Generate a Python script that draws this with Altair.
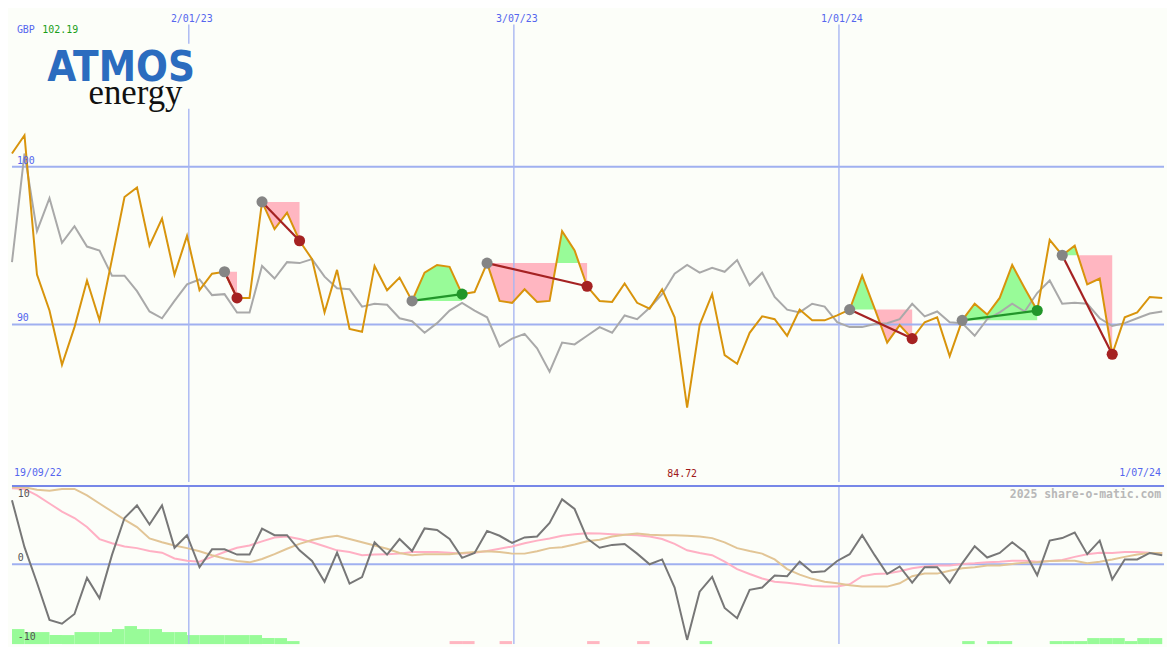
import altair as alt
import pandas as pd

# ---------------- data ----------------
ORIGIN = "2022-09-25"          # date of the first weekly point
END_DATE = "2024-07-01"
grid_dates = ["2023-01-02", "2023-07-03", "2024-01-01"]
grid_labels = ["2/01/23", "3/07/23", "1/01/24"]
start_label = "19/09/22"
end_label = "1/07/24"
currency = "GBP"
header_price = "102.19"
min_label = "84.72"
credit = "2025 share-o-matic.com"
top_levels = [100, 90]

price = [100.84, 102.0, 93.16, 90.88, 87.44, 89.83, 92.79, 90.26, 94.14, 98.08,
         98.69, 95.0, 96.72, 93.16, 95.62, 92.17, 93.22, 93.34, 91.68, 91.68,
         97.77, 96.05, 97.09, 95.31, 94.14, 90.76, 93.46, 89.71, 89.53, 93.71,
         92.17, 92.97, 91.49, 93.28, 93.77, 93.65, 91.92, 92.05, 93.89, 91.49,
         91.37, 92.23, 91.43, 91.49, 95.92, 94.69, 92.42, 91.49, 91.43, 92.60,
         91.37, 91.00, 92.23, 90.45, 84.72, 89.96, 91.92, 88.05, 87.50, 89.47,
         90.51, 90.33, 89.28, 90.94, 90.26, 90.26, 90.57, 90.94, 93.09, 91.00,
         88.85, 89.96, 89.10, 90.14, 90.45, 87.99, 90.26, 91.31, 90.63, 91.68,
         93.77, 92.29, 90.88, 95.37, 94.39, 95.00, 92.54, 92.91, 88.11, 90.45,
         90.76, 91.74, 91.68]

average = [93.95, 100.84, 95.92, 98.01, 95.18, 96.23, 94.94, 94.69, 93.09, 93.09,
           92.11, 90.82, 90.39, 91.49, 92.54, 92.85, 91.86, 91.92, 90.76, 90.76,
           93.71, 92.91, 93.95, 93.89, 94.14, 93.03, 92.29, 92.23, 91.13, 91.31,
           91.25, 90.39, 90.20, 89.47, 90.08, 90.88, 91.37, 90.88, 90.45, 88.60,
           89.10, 89.40, 88.48, 87.00, 88.85, 88.73, 89.28, 89.83, 89.47, 90.57,
           90.33, 91.06, 91.92, 93.22, 93.77, 93.28, 93.59, 93.34, 94.08, 92.48,
           93.28, 91.74, 90.94, 90.76, 91.31, 91.13, 90.14, 89.83, 89.83, 90.02,
           90.08, 90.33, 91.31, 90.51, 90.82, 90.14, 90.08, 89.28, 90.33, 90.76,
           91.31, 90.82, 91.99, 92.79, 91.31, 91.37, 91.31, 90.39, 89.90, 90.08,
           90.39, 90.69, 90.82]

oscillator = [9.90, 2.65, -2.85, -8.59, -9.19, -7.69, -2.10, -5.25, 1.45, 7.15,
              9.10, 6.15, 9.10, 2.55, 4.50, -0.45, 2.31, 2.31, 1.50, 1.50,
              5.50, 4.50, 4.50, 2.16, 0.51, -2.70, 1.80, -3.00, -1.99, 3.40,
              1.50, 3.90, 2.05, 5.55, 5.31, 3.90, 1.00, 1.75, 5.16, 4.41,
              3.30, 4.15, 4.30, 6.40, 10.04, 8.55, 4.00, 2.55, 3.00, 3.15,
              1.65, 0.00, 0.75, -3.60, -11.69, -4.24, -1.95, -6.75, -8.34, -3.94,
              -3.60, -1.74, -1.84, 0.40, -1.24, -1.09, 0.51, 1.56, 4.50, 1.41,
              -1.50, -0.34, -2.85, -0.45, -0.45, -2.85, 0.15, 2.80, 1.05, 1.75,
              3.40, 1.90, -1.69, 3.66, 4.05, 4.90, 1.56, 3.66, -2.34, 0.75,
              0.75, 1.75, 1.41]

signal_pink = [11.75, 11.65, 10.64, 9.40, 8.16, 7.15, 5.76, 3.90, 3.25, 2.76,
               2.50, 2.05, 1.80, 0.90, 0.55, 0.40, 1.15, 1.90, 2.55, 2.91,
               3.55, 4.15, 4.30, 3.90, 3.40, 2.80, 2.16, 1.90, 1.41, 1.50,
               1.56, 1.65, 1.90, 1.90, 1.90, 1.80, 1.65, 1.80, 2.05, 2.40,
               2.76, 3.25, 3.66, 4.00, 4.41, 4.65, 4.80, 4.75, 4.65, 4.56,
               4.50, 4.30, 3.90, 3.15, 2.16, 1.75, 1.41, 0.40, -0.75, -1.50,
               -2.19, -2.70, -2.85, -3.09, -3.34, -3.45, -3.45, -3.09, -1.84, -1.50,
               -1.44, -1.09, -0.60, -0.34, -0.19, -0.19, 0.06, 0.15, 0.30, 0.40,
               0.55, 0.55, 0.40, 0.51, 0.66, 1.15, 1.56, 1.80, 1.75, 1.90,
               1.90, 1.80, 1.75]

signal_tan = [11.90, 11.90, 11.54, 11.39, 11.65, 11.65, 10.64, 9.40, 8.16, 6.90,
              5.76, 4.00, 3.40, 2.91, 2.50, 2.01, 1.41, 0.90, 0.51, 0.30,
              0.81, 1.56, 2.40, 3.15, 3.75, 4.15, 4.41, 3.90, 3.40, 2.91,
              2.40, 1.75, 1.41, 1.56, 1.56, 1.56, 1.75, 1.90, 2.01, 1.90,
              1.65, 1.65, 2.01, 2.50, 2.65, 3.06, 3.55, 3.81, 4.30, 4.56,
              4.75, 4.56, 4.50, 4.50, 4.41, 4.30, 4.05, 3.40, 2.50, 2.05,
              1.65, 0.75, -0.75, -1.59, -2.25, -2.70, -2.94, -3.24, -3.45, -3.45,
              -3.45, -2.94, -1.84, -1.44, -1.44, -0.99, -0.60, -0.45, -0.19, -0.19,
              0.06, 0.25, 0.30, 0.51, 0.55, 0.55, 0.15, 0.40, 0.75, 1.15,
              1.50, 1.75, 1.75]

bar_level = [5, 4, 4, 3, 3, 4, 4, 4, 5, 6,
             5, 5, 4, 4, 3, 3, 3, 3, 3, 3,
             2, 2, 1, 0, 0, 0, 0, 0, 0, 0,
             0, 0, 0, 0, 0, -1, -1, 0, 0, -1,
             0, 0, 0, 0, 0, 0, -1, 0, 0, 0,
             -1, 0, 0, 0, 0, 1, 0, 0, 0, 0,
             0, 0, 0, 0, 0, 0, 0, 0, 0, 0,
             0, 0, 0, 0, 0, 0, 1, 0, 1, 1,
             0, 0, 0, 1, 1, 1, 2, 2, 2, 1,
             2, 2, 0]

# trades: (entry week, exit week)
trades = [(17, 18), (20, 23), (32, 36), (38, 46), (67, 72), (76, 82), (84, 88)]

# ---------------- layout / style ----------------
W, HT, HB = 1159, 475, 159
SX, SY = W / 1175.0, (HT + HB) / 650.0
BG = "#fcfef9"
BLUE_TXT = "#5566ee"
GRID = "#a0b0f0"
SEP = "#7787e8"
MONO = "DejaVu Sans Mono"
GREEN_FILL = "#98fb98"
PINK_FILL = "#ffb6c1"


def week_pos(d):
    return (pd.Timestamp(d) - pd.Timestamp(ORIGIN)).days / 7.0


XMAX = week_pos(END_DATE)
xs = alt.Scale(domain=[0, XMAX], nice=False, zero=False)
yt = alt.Scale(domain=[80, 109.95], nice=False, zero=False)
yb = alt.Scale(domain=[-12.34, 12.10], nice=False, zero=False)
ybar = alt.Scale(domain=[0, 52.6], nice=False, zero=False)

n = len(price)
df = pd.DataFrame({"x": list(range(n)), "price": price, "avg": average,
                   "osc": oscillator, "pink": signal_pink, "tan": signal_tan})

# trade fills / lines / dots
fill_rows, line_rows, dot_rows = [], [], []
for k, (a, b) in enumerate(trades):
    e = price[a]
    pts = []
    for j in range(a, b):
        pts.append((j, price[j]))
        p0, p1 = price[j], price[j + 1]
        if (p0 - e) * (p1 - e) < 0:
            pts.append((j + (e - p0) / (p1 - p0), e))
    pts.append((b, price[b]))
    for xx, yy in pts:
        fill_rows.append({"trade": k, "x": xx, "up": max(yy, e), "dn": min(yy, e), "entry": e})
    outcome = "gain" if price[b] > e else "loss"
    line_rows += [{"trade": k, "x": a, "y": e, "kind": outcome},
                  {"trade": k, "x": b, "y": price[b], "kind": outcome}]
    dot_rows += [{"trade": k, "x": a, "y": e, "kind": "entry"},
                 {"trade": k, "x": b, "y": price[b], "kind": outcome}]
fills = pd.DataFrame(fill_rows)
tlines = pd.DataFrame(line_rows)
tdots = pd.DataFrame(dot_rows)
kind_scale = alt.Scale(domain=["entry", "gain", "loss"], range=["#858585", "#22962a", "#a52222"])

X = alt.X("x:Q", scale=xs, axis=None)
grid_df = pd.DataFrame({"x": [week_pos(d) for d in grid_dates], "label": grid_labels})


def one(text, **cols):
    d = {"t": [text]}
    for key, v in cols.items():
        d[key] = [v]
    return pd.DataFrame(d)


# ---------------- top panel ----------------
area_up = alt.Chart(fills).mark_area(color=GREEN_FILL, opacity=1).encode(
    x=X, y=alt.Y("up:Q", scale=yt, axis=None, stack=None), y2="entry:Q", detail="trade:N")
area_dn = alt.Chart(fills).mark_area(color=PINK_FILL, opacity=1).encode(
    x=X, y=alt.Y("dn:Q", scale=yt, axis=None, stack=None), y2="entry:Q", detail="trade:N")

grid_h = alt.Chart(pd.DataFrame({"lvl": top_levels})).mark_rule(color=GRID, strokeWidth=2).encode(
    y=alt.Y("lvl:Q", scale=yt, axis=None))
grid_v_top = alt.Chart(grid_df).mark_rule(color="#a8b6f2", strokeWidth=1.4).encode(
    x=X, y=alt.value(15 * SY), y2=alt.value(HT))

logo_bg = alt.Chart(one("")).mark_rect(color=BG).encode(
    x=alt.value(35 * SX), x2=alt.value(186 * SX), y=alt.value(35 * SY), y2=alt.value(102 * SY))
logo_a = alt.Chart(one("ATMOS")).mark_text(
    align="left", baseline="alphabetic",
    font="Liberation Sans Narrow, DejaVu Sans Condensed, Liberation Sans", fontWeight="bold",
    fontSize=42, color="#2b6cbf").encode(x=alt.value(36 * SX), y=alt.value(73 * SY), text="t:N")
logo_e = alt.Chart(one("energy")).mark_text(
    align="left", baseline="alphabetic", font="Liberation Serif",
    fontSize=35, color="#111111").encode(x=alt.value(78 * SX), y=alt.value(97 * SY), text="t:N")

avg_line = alt.Chart(df).mark_line(color="#a9a9a9", strokeWidth=2).encode(
    x=X, y=alt.Y("avg:Q", scale=yt, axis=None))
price_line = alt.Chart(df).mark_line(color="#d8940c", strokeWidth=2).encode(
    x=X, y=alt.Y("price:Q", scale=yt, axis=None))

trade_lines = alt.Chart(tlines).mark_line(strokeWidth=2.2).encode(
    x=X, y=alt.Y("y:Q", scale=yt, axis=None), detail="trade:N",
    color=alt.Color("kind:N", scale=kind_scale, legend=None))
trade_dots = alt.Chart(tdots).mark_circle(size=125, opacity=1).encode(
    x=X, y=alt.Y("y:Q", scale=yt, axis=None),
    color=alt.Color("kind:N", scale=kind_scale, legend=None))

txt = dict(font=MONO, fontSize=10, baseline="middle")
t_cur = alt.Chart(one(currency)).mark_text(align="left", color=BLUE_TXT, **txt).encode(
    x=alt.value(5 * SX), y=alt.value(21 * SY), text="t:N")
t_hp = alt.Chart(one(header_price)).mark_text(align="left", color="#1a9e1a", **txt).encode(
    x=alt.value(31 * SX), y=alt.value(21 * SY), text="t:N")
t_dates = alt.Chart(grid_df).mark_text(align="center", dx=3, color=BLUE_TXT, **txt).encode(
    x=X, y=alt.value(9 * SY), text="label:N")
t_levels = alt.Chart(pd.DataFrame({"lvl": top_levels, "t": [str(v) for v in top_levels]})).mark_text(
    align="left", dy=-6, color=BLUE_TXT, **txt).encode(
    x=alt.value(5 * SX), y=alt.Y("lvl:Q", scale=yt, axis=None), text="t:N")
t_start = alt.Chart(one(start_label, x=0)).mark_text(align="left", dx=2, color=BLUE_TXT, **txt).encode(
    x=X, y=alt.value(478 * SY), text="t:N")
t_end = alt.Chart(one(end_label, x=XMAX)).mark_text(align="right", dx=-3, color=BLUE_TXT, **txt).encode(
    x=X, y=alt.value(478 * SY), text="t:N")
imin = min(range(n), key=lambda i: price[i])
t_min = alt.Chart(one(min_label, x=imin)).mark_text(align="center", dx=-5, color="#a01818", **txt).encode(
    x=X, y=alt.value(479 * SY), text="t:N")

top = alt.layer(
    area_up, area_dn, grid_h, grid_v_top, logo_bg, logo_a, logo_e,
    avg_line, price_line, trade_lines, trade_dots,
    t_cur, t_hp, t_dates, t_levels, t_start, t_end, t_min
).properties(width=W, height=HT)

# ---------------- bottom panel ----------------
bars = pd.DataFrame({"x": list(range(n)), "lvl": [abs(v) for v in bar_level],
                     "sign": [1 if v > 0 else -1 for v in bar_level]})
bars["x2"] = bars["x"] + 1
bars["base"] = 0
bars = bars[bars["lvl"] > 0]

bar_up = alt.Chart(bars[bars["sign"] > 0]).mark_rect(color=GREEN_FILL).encode(
    x=X, x2="x2:Q", y=alt.Y("lvl:Q", scale=ybar, axis=None), y2="base:Q")
bar_dn = alt.Chart(bars[bars["sign"] < 0]).mark_rect(color=PINK_FILL).encode(
    x=X, x2="x2:Q", y=alt.Y("lvl:Q", scale=ybar, axis=None), y2="base:Q")
grid_v_bot = alt.Chart(grid_df).mark_rule(color="#a8b6f2", strokeWidth=1.4).encode(x=X)
zero_line = alt.Chart(pd.DataFrame({"lvl": [0]})).mark_rule(color=GRID, strokeWidth=2).encode(
    y=alt.Y("lvl:Q", scale=yb, axis=None))
separator = alt.Chart(one("")).mark_rule(color=SEP, strokeWidth=2).encode(
    x=alt.value(0), x2=alt.value(W), y=alt.value(0))

pink_line = alt.Chart(df).mark_line(color="#ffb0c4", strokeWidth=2).encode(
    x=X, y=alt.Y("pink:Q", scale=yb, axis=None))
tan_line = alt.Chart(df).mark_line(color="#e2c596", strokeWidth=2).encode(
    x=X, y=alt.Y("tan:Q", scale=yb, axis=None))
osc_line = alt.Chart(df).mark_line(color="#777777", strokeWidth=2).encode(
    x=X, y=alt.Y("osc:Q", scale=yb, axis=None))

t_credit = alt.Chart(one(credit)).mark_text(
    align="right", baseline="middle", font=MONO, fontSize=11.5, fontWeight="bold", color="#b8b8b8").encode(
    x=alt.value(1172 * SX), y=alt.value((496 - 487) * SY), text="t:N")
blabels = pd.DataFrame({"t": ["10", "0", "-10"], "py": [(495 - 487) * SY, (561.7 - 487) * SY, (642.3 - 487) * SY]})
t_blevels = alt.Chart(blabels).mark_text(align="left", color="#555555", **txt).encode(
    x=alt.value(6 * SX), y=alt.Y("py:Q", scale=None, axis=None), text="t:N")

bottom = alt.layer(
    bar_up, bar_dn, grid_v_bot, zero_line, pink_line, tan_line, osc_line, separator, t_credit, t_blevels
).resolve_scale(y="independent").properties(width=W, height=HB)

chart = alt.vconcat(top, bottom, spacing=0).properties(
    padding=0, background=BG
).configure_view(stroke=None).configure_concat(spacing=0)

chart.save("out.html", embed_options={"renderer": "svg", "actions": False})
